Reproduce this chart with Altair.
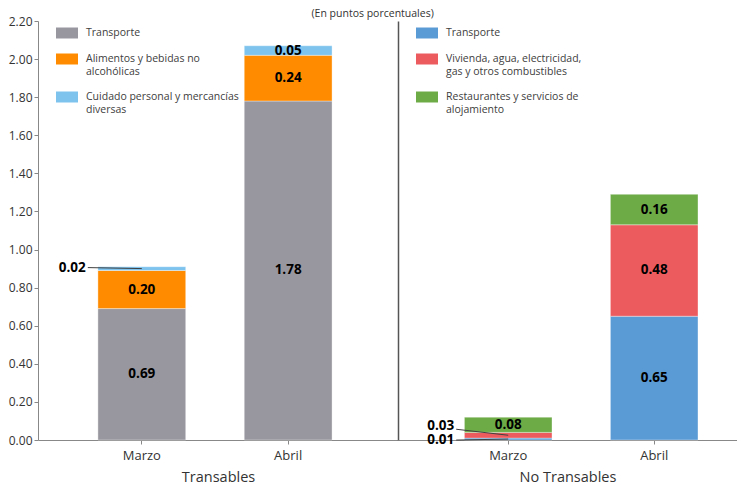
import altair as alt
import pandas as pd

# ---- data ----
meses = ["Marzo", "Abril"]

trans_cats = ["Transporte",
              "Alimentos y bebidas no alcohólicas",
              "Cuidado personal y mercancías diversas"]
trans_marzo = [0.69, 0.20, 0.02]
trans_abril = [1.78, 0.24, 0.05]
trans_colors = ["#98979f", "#ff8c00", "#7dc3ee"]

nt_cats = ["Transporte",
           "Vivienda, agua, electricidad, gas y otros combustibles",
           "Restaurantes y servicios de alojamiento"]
nt_marzo = [0.01, 0.03, 0.08]
nt_abril = [0.65, 0.48, 0.16]
nt_colors = ["#5b9bd5", "#ec5b5e", "#6dab47"]

y_ticks = [0.0, 0.2, 0.4, 0.6, 0.8, 1.0, 1.2, 1.4, 1.6, 1.8, 2.0, 2.2]

legend_lines = {
    "Alimentos y bebidas no alcohólicas": ["Alimentos y bebidas no", "alcohólicas"],
    "Cuidado personal y mercancías diversas": ["Cuidado personal y mercancías", "diversas"],
    "Vivienda, agua, electricidad, gas y otros combustibles": ["Vivienda, agua, electricidad,", "gas y otros combustibles"],
    "Restaurantes y servicios de alojamiento": ["Restaurantes y servicios de", "alojamiento"],
}

FONT = "Open Sans"


def build_df(cats, marzo, abril):
    rows = []
    for mes, vals in zip(meses, [marzo, abril]):
        for i, (c, v) in enumerate(zip(cats, vals)):
            rows.append({"mes": mes, "cat": c, "valor": v, "orden": i})
    return pd.DataFrame(rows)


label_expr = ""
for k, v in legend_lines.items():
    label_expr += f"datum.label == '{k}' ? ['{v[0]}', '{v[1]}'] : "
label_expr += "datum.label"


def panel(df, cats, colors, width, pad_outer, align, title, left_axis, callouts):
    x = alt.X("mes:N", sort=meses,
              scale=alt.Scale(domain=meses, paddingInner=0.4, paddingOuter=pad_outer, align=align),
              axis=alt.Axis(title=title, labelAngle=0, labelFontSize=13, labelColor="#333333",
                            titleFontSize=14.5, titleFontWeight="normal", titleColor="#333333",
                            tickSize=4, tickColor="#888888", domainColor="#888888",
                            labelPadding=5, titlePadding=8, labelFont=FONT, titleFont=FONT))
    if left_axis:
        yaxis = alt.Axis(title=None, values=y_ticks, format=".2f", labelFontSize=12,
                         labelColor="#333333", tickSize=4, tickColor="#888888",
                         domainColor="#888888", grid=False, labelPadding=2, labelFont=FONT)
    else:
        yaxis = alt.Axis(title=None, labels=False, ticks=False, grid=False,
                         domainColor="#555555", domainWidth=1.5)
    yscale = alt.Scale(domain=[0, 2.2], nice=False)

    base = alt.Chart(df).transform_stack(
        stack="valor", as_=["y0", "y1"], groupby=["mes"],
        sort=[alt.SortField("orden", order="ascending")]
    ).transform_calculate(ymid="(datum.y0 + datum.y1) / 2")

    bars = base.mark_bar(stroke="#ffffff", strokeWidth=0.6, strokeOpacity=0.6).encode(
        x=x,
        y=alt.Y("y0:Q", scale=yscale, axis=yaxis),
        y2="y1:Q",
        color=alt.Color("cat:N", scale=alt.Scale(domain=cats, range=colors), title=None,
                        legend=alt.Legend(orient="none", legendX=18, legendY=1,
                                          symbolType="M-1,-0.5H1V0.5H-1Z", symbolSize=484,
                                          symbolStrokeWidth=0, labelExpr=label_expr,
                                          labelFontSize=10.5, labelColor="#404040",
                                          labelFont=FONT, labelLimit=300, labelOffset=8,
                                          rowPadding=9, padding=0, labelBaseline="middle")),
    )
    labels = base.transform_filter("datum.valor >= 0.05").mark_text(
        fontWeight="bold", fontSize=13.5, font=FONT, color="#000000"
    ).encode(x=x, y=alt.Y("ymid:Q", scale=yscale, axis=yaxis),
             text=alt.Text("valor:Q", format=".2f"))

    layers = [bars, labels]
    for cat, mes, dx, dy, ldy in callouts:
        sub = base.transform_filter(f"datum.cat == '{cat}' && datum.mes == '{mes}'")
        rule = sub.mark_rule(color="#404040", strokeWidth=1, x2Offset=dx + 2, y2Offset=ldy).encode(
            x=x, x2="mes:N", y=alt.Y("ymid:Q", scale=yscale, axis=yaxis), y2="ymid:Q")
        txt = sub.mark_text(fontWeight="bold", fontSize=13.5, font=FONT, color="#000000",
                            align="right", dx=dx, dy=dy).encode(
            x=x, y=alt.Y("ymid:Q", scale=yscale, axis=yaxis),
            text=alt.Text("valor:Q", format=".2f"))
        layers += [rule, txt]
    return alt.layer(*layers).properties(width=width, height=419)


left = panel(build_df(trans_cats, trans_marzo, trans_abril), trans_cats, trans_colors,
             360, 0.43, 0.476, "Transables", True,
             [("Cuidado personal y mercancías diversas", "Marzo", -56, -1, -1)])
right = panel(build_df(nt_cats, nt_marzo, nt_abril), nt_cats, nt_colors,
              339, 0.361, 0.63, "No Transables", False,
              [("Vivienda, agua, electricidad, gas y otros combustibles", "Marzo", -54, -9, -6),
               ("Transporte", "Marzo", -54, 1, 1)])

chart = alt.hconcat(left, right, spacing=0).resolve_scale(
    color="independent", x="independent", y="independent"
).resolve_legend(color="independent").properties(
    title=alt.TitleParams("(En puntos porcentuales)", fontSize=10.5, fontWeight="normal",
                          color="#333333", anchor="middle", offset=-4, font=FONT),
    padding={"left": 0, "top": 0, "right": 0, "bottom": 0},
).configure_view(stroke=None)

chart.save("out.html", embed_options={"renderer": "svg", "actions": False})
